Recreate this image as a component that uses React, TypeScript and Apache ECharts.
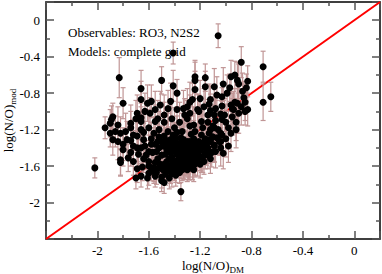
import React, { useEffect, useRef } from "react";
import * as echarts from "echarts";

// [log(N/O)_DM, log(N/O)_mod, error of log(N/O)_mod]
const upperPoints: number[][] = [
  [-1.41, -0.36, 0.12], [-1.06, -0.17, 0.13], [-1.83, -0.63, 0.22], [-1.50, -0.66, 0.15],
  [-1.24, -0.62, 0.18], [-1.16, -0.63, 0.15], [-0.96, -0.62, 0.18], [-0.93, -0.60, 0.15],
  [-0.88, -0.46, 0.17], [-0.71, -0.51, 0.17], [-0.65, -0.84, 0.16], [-0.71, -0.90, 0.2],
  [-1.24, -0.66, 0.2], [-1.16, -0.73, 0.17], [-1.09, -0.73, 0.2], [-1.02, -0.70, 0.18],
  [-0.97, -0.74, 0.15], [-0.91, -0.66, 0.2], [-0.83, -0.67, 0.17], [-0.84, -0.74, 0.15],
  [-1.24, -0.76, 0.2], [-1.26, -0.87, 0.18], [-1.12, -0.87, 0.15], [-1.03, -0.84, 0.15],
  [-0.96, -0.93, 0.18], [-0.91, -0.91, 0.2], [-0.93, -0.90, 0.15], [-0.85, -0.90, 0.2],
  [-0.83, -0.98, 0.18], [-0.85, -1.00, 0.15], [-0.95, -0.97, 0.17], [-1.03, -0.94, 0.2],
  [-1.08, -0.97, 0.15], [-1.12, -0.99, 0.18], [-1.17, -0.95, 0.2], [-1.21, -1.00, 0.18],
  [-1.28, -1.02, 0.2], [-1.32, -1.04, 0.18], [-1.04, -1.03, 0.15], [-1.03, -1.09, 0.2],
  [-1.14, -1.04, 0.17], [-1.19, -1.11, 0.18], [-1.25, -1.15, 0.2], [-1.09, -1.18, 0.18],
  [-1.04, -1.24, 0.17], [-1.05, -1.33, 0.15], [-1.09, -1.38, 0.18], [-1.04, -1.40, 0.2],
  [-1.12, -1.31, 0.18], [-1.19, -1.50, 0.17], [-1.28, -1.60, 0.15], [-1.33, -1.57, 0.17],
  [-1.66, -0.75, 0.2], [-1.41, -0.72, 0.17], [-1.38, -0.80, 0.15], [-1.80, -0.91, 0.17],
  [-1.66, -0.87, 0.2], [-1.58, -0.89, 0.18], [-1.51, -0.93, 0.15], [-1.43, -0.89, 0.2],
  [-1.38, -0.98, 0.18], [-1.30, -0.95, 0.2], [-1.22, -0.98, 0.17], [-1.09, -1.04, 0.2],
  [-1.01, -1.04, 0.18], [-0.94, -0.98, 0.2],
];

const leftPoints: number[][] = [
  [-1.94, -1.18, 0.12], [-1.90, -1.24, 0.15], [-1.88, -1.06, 0.15], [-1.89, -1.09, 0.15],
  [-1.88, -1.31, 0.17], [-1.84, -1.15, 0.2], [-1.82, -1.24, 0.18], [-1.84, -1.33, 0.2],
  [-1.80, -1.42, 0.18], [-1.82, -1.53, 0.17], [-1.76, -1.51, 0.15], [-1.74, -1.13, 0.2],
  [-1.69, -1.02, 0.2], [-1.66, -1.07, 0.18], [-1.61, -0.91, 0.2], [-1.59, -1.02, 0.17],
  [-1.55, -0.98, 0.2], [-1.55, -1.11, 0.18], [-1.66, -1.20, 0.2], [-1.64, -1.31, 0.18],
  [-1.72, -1.26, 0.17], [-1.77, -1.31, 0.2], [-1.69, -1.40, 0.15], [-2.02, -1.62, 0.11],
  [-1.82, -1.56, 0.15], [-1.74, -1.45, 0.15], [-1.74, -1.32, 0.2], [-1.66, -1.40, 0.17],
  [-1.69, -1.63, 0.15], [-1.70, -1.73, 0.12], [-1.66, -1.71, 0.12], [-1.61, -1.73, 0.12],
  [-1.55, -1.71, 0.12], [-1.50, -1.72, 0.12], [-1.48, -1.78, 0.12], [-1.35, -1.88, 0.1],
  [-1.42, -1.68, 0.15], [-1.39, -1.63, 0.15], [-1.29, -1.60, 0.15], [-1.24, -1.55, 0.15],
  [-1.18, -1.50, 0.17], [-1.15, -1.42, 0.17], [-1.09, -1.37, 0.18], [-1.07, -1.29, 0.18],
  [-1.03, -1.26, 0.15], [-1.04, -1.33, 0.15], [-1.60, -1.60, 0.15], [-1.65, -1.61, 0.15],
  [-1.56, -1.62, 0.15], [-1.66, -1.11, 0.2], [-1.90, -1.13, 0.15], [-1.69, -1.27, 0.18],
  [-1.64, -1.23, 0.2], [-1.38, -1.23, 0.18], [-1.46, -1.38, 0.2], [-1.30, -1.47, 0.18],
  [-1.25, -1.42, 0.18],
];

const corePoints: number[][] = [
  [-1.58, -1.30, 0.18], [-1.55, -1.36, 0.15], [-1.57, -1.45, 0.2], [-1.53, -1.52, 0.14],
  [-1.51, -1.58, 0.12], [-1.49, -1.64, 0.15], [-1.52, -1.40, 0.2], [-1.50, -1.33, 0.17],
  [-1.48, -1.27, 0.22], [-1.47, -1.47, 0.15], [-1.46, -1.55, 0.14], [-1.45, -1.60, 0.12],
  [-1.44, -1.38, 0.18], [-1.43, -1.31, 0.2], [-1.42, -1.50, 0.15], [-1.41, -1.43, 0.17],
  [-1.40, -1.57, 0.14], [-1.40, -1.64, 0.12], [-1.39, -1.35, 0.2], [-1.38, -1.47, 0.15],
  [-1.37, -1.53, 0.14], [-1.37, -1.40, 0.18], [-1.36, -1.60, 0.13], [-1.35, -1.29, 0.2],
  [-1.35, -1.44, 0.17], [-1.34, -1.50, 0.15], [-1.33, -1.56, 0.14], [-1.33, -1.38, 0.18],
  [-1.32, -1.63, 0.12], [-1.31, -1.46, 0.17], [-1.30, -1.33, 0.2], [-1.30, -1.53, 0.15],
  [-1.29, -1.41, 0.18], [-1.28, -1.58, 0.14], [-1.27, -1.48, 0.17], [-1.27, -1.36, 0.2],
  [-1.26, -1.52, 0.15], [-1.25, -1.30, 0.2], [-1.24, -1.44, 0.18], [-1.23, -1.38, 0.2],
  [-1.22, -1.49, 0.16], [-1.21, -1.33, 0.2], [-1.20, -1.43, 0.18], [-1.19, -1.26, 0.22],
  [-1.18, -1.37, 0.2], [-1.16, -1.30, 0.2], [-1.15, -1.35, 0.18], [-1.13, -1.24, 0.2],
  [-1.12, -1.20, 0.22], [-1.10, -1.28, 0.2], [-1.62, -1.48, 0.16], [-1.60, -1.55, 0.15],
  [-1.63, -1.38, 0.18], [-1.58, -1.62, 0.14], [-1.54, -1.67, 0.13], [-1.47, -1.69, 0.12],
  [-1.43, -1.66, 0.13], [-1.36, -1.67, 0.12], [-1.31, -1.58, 0.14], [-1.26, -1.60, 0.15],
  [-1.22, -1.55, 0.16], [-1.45, -1.22, 0.2], [-1.40, -1.18, 0.22], [-1.34, -1.22, 0.2],
  [-1.28, -1.16, 0.22], [-1.52, -1.20, 0.2], [-1.56, -1.24, 0.18], [-1.60, -1.18, 0.2],
  [-1.48, -1.12, 0.22], [-1.42, -1.08, 0.2], [-1.36, -1.12, 0.22], [-1.30, -1.08, 0.2],
  [-1.24, -1.22, 0.2], [-1.18, -1.18, 0.22], [-1.14, -1.12, 0.2], [-1.10, -1.16, 0.22],
  [-1.06, -1.20, 0.2], [-1.08, -1.10, 0.22], [-1.00, -1.12, 0.2], [-0.98, -1.18, 0.18],
  [-0.95, -1.06, 0.2], [-0.92, -1.12, 0.2], [-0.90, -1.02, 0.22], [-0.88, -0.95, 0.2],
  [-0.86, -0.85, 0.18], [-0.87, -0.78, 0.2], [-0.90, -0.70, 0.22], [-0.99, -0.80, 0.2],
  [-1.07, -0.82, 0.2], [-1.13, -0.92, 0.22], [-1.20, -0.86, 0.2], [-1.28, -0.90, 0.22],
  [-1.33, -0.97, 0.2], [-1.45, -0.97, 0.2], [-1.48, -1.04, 0.22], [-1.53, -1.08, 0.2],
  [-1.63, -1.00, 0.2], [-1.70, -1.08, 0.2], [-1.74, -1.18, 0.18], [-1.78, -1.22, 0.2],
  [-1.86, -1.22, 0.17], [-1.80, -1.36, 0.18], [-1.72, -1.38, 0.17], [-1.60, -1.44, 0.18],
  [-1.64, -1.52, 0.15], [-1.68, -1.47, 0.16], [-1.72, -1.55, 0.15], [-1.58, -1.36, 0.18],
  [-1.52, -1.28, 0.2], [-1.47, -1.36, 0.18], [-1.41, -1.26, 0.2], [-1.38, -1.54, 0.15],
  [-1.35, -1.60, 0.14], [-1.30, -1.64, 0.13], [-1.25, -1.64, 0.13], [-1.20, -1.58, 0.15],
  [-1.16, -1.46, 0.17], [-1.12, -1.52, 0.16], [-1.08, -1.44, 0.18], [-1.00, -1.30, 0.2],
  [-0.96, -1.24, 0.2], [-0.92, -1.20, 0.2], [-0.98, -1.38, 0.18], [-1.02, -1.46, 0.17],
  [-1.44, -1.73, 0.12], [-1.50, -1.76, 0.12], [-1.56, -1.66, 0.13], [-1.60, -1.68, 0.13],
  [-1.39, -1.70, 0.12],
];

// densest part of the cloud
const densePoints: number[][] = [
  [-1.46, -1.42, 0.16], [-1.43, -1.45, 0.15], [-1.40, -1.40, 0.16], [-1.38, -1.43, 0.15],
  [-1.36, -1.48, 0.14], [-1.34, -1.42, 0.16], [-1.32, -1.50, 0.15], [-1.30, -1.44, 0.16],
  [-1.28, -1.52, 0.14], [-1.26, -1.45, 0.16], [-1.24, -1.50, 0.15], [-1.22, -1.42, 0.17],
  [-1.44, -1.52, 0.14], [-1.41, -1.56, 0.13], [-1.38, -1.58, 0.13], [-1.35, -1.55, 0.14],
  [-1.32, -1.57, 0.13], [-1.29, -1.55, 0.14], [-1.48, -1.58, 0.13], [-1.45, -1.65, 0.12],
  [-1.42, -1.61, 0.13], [-1.34, -1.64, 0.12], [-1.28, -1.62, 0.13], [-1.24, -1.58, 0.14],
  [-1.50, -1.48, 0.15], [-1.54, -1.44, 0.16], [-1.55, -1.56, 0.14], [-1.52, -1.62, 0.13],
  [-1.39, -1.30, 0.18], [-1.36, -1.35, 0.17], [-1.33, -1.31, 0.18], [-1.31, -1.38, 0.17],
  [-1.28, -1.33, 0.18], [-1.25, -1.37, 0.17], [-1.22, -1.34, 0.18], [-1.19, -1.40, 0.17],
  [-1.17, -1.34, 0.18], [-1.14, -1.40, 0.17], [-1.12, -1.33, 0.18], [-1.11, -1.45, 0.16],
  [-1.42, -1.35, 0.17], [-1.46, -1.32, 0.18], [-1.49, -1.38, 0.17], [-1.53, -1.33, 0.18],
  [-1.20, -1.50, 0.15], [-1.17, -1.55, 0.14], [-1.14, -1.48, 0.15], [-1.27, -1.25, 0.2],
];

const allPoints = [...upperPoints, ...leftPoints, ...corePoints, ...densePoints];

const axisMin = -2.4;
const axisMax = 0.2;
const tickStep = 0.4;
const identityLine = [[axisMin, axisMin], [axisMax, axisMax]];

const FONT = "Liberation Serif";
const ERR_COLOR = "#c09595";

const labelFmt = (v: number) => {
  if (Math.abs(v - axisMin) < 1e-6 || v > 0.1) return "";
  const r = Math.round(v * 10) / 10;
  return r === 0 ? "0" : String(r);
};

export default function App() {
  const ref = useRef<HTMLDivElement>(null);
  useEffect(() => {
    document.body.style.margin = "0";
    if (!ref.current) return;
    const chart = echarts.init(ref.current, undefined, { renderer: "svg" });
    const baseAxis = {
      type: "value" as const,
      min: axisMin,
      max: axisMax,
      interval: tickStep,
      splitLine: { show: false },
      axisLine: { show: true, onZero: false, lineStyle: { color: "#000", width: 1.5 } },
      axisTick: { show: true, inside: true, length: 8, lineStyle: { color: "#555", width: 1.5 } },
      minorTick: { show: true, splitNumber: 2, length: 4, lineStyle: { color: "#555", width: 1.5 } },
    };
    const nameRich = {
      m: { fontFamily: FONT, fontSize: 13, color: "#000", lineHeight: 12, verticalAlign: "top" },
      s: { fontFamily: FONT, fontSize: 9, color: "#000", lineHeight: 15, verticalAlign: "bottom" },
    };
    chart.setOption({
      animation: false,
      grid: { left: 46, right: 2, top: 2, bottom: 35, containLabel: false, outerBoundsMode: "none" },
      xAxis: [
        {
          ...baseAxis,
          position: "bottom",
          axisLabel: { fontFamily: FONT, fontSize: 13, lineHeight: 12, color: "#000", margin: 5, formatter: labelFmt },
          name: "{m|log(N/O)}{s|DM}",
          nameLocation: "middle",
          nameGap: 20,
          nameMoveOverlap: false,
          nameTextStyle: { rich: nameRich },
        },
        { ...baseAxis, position: "top", axisLabel: { show: false } },
      ],
      yAxis: [
        {
          ...baseAxis,
          position: "left",
          axisLabel: { fontFamily: FONT, fontSize: 13, color: "#000", margin: 6, formatter: labelFmt },
          name: "{m|log(N/O)}{s|mod}",
          nameLocation: "middle",
          nameGap: 29,
          nameMoveOverlap: false,
          nameTextStyle: { rich: nameRich },
        },
        { ...baseAxis, position: "right", axisLabel: { show: false } },
      ],
      series: [
        {
          type: "line",
          data: identityLine,
          symbol: "none",
          lineStyle: { color: "#ff0000", width: 2 },
          z: 1,
        },
        {
          type: "custom",
          data: allPoints,
          encode: { x: 0, y: 1 },
          z: 2,
          renderItem: (_p: any, api: any) => {
            const x = api.value(0);
            const y = api.value(1);
            const e = api.value(2);
            const top = api.coord([x, y + e]);
            const bot = api.coord([x, y - e]);
            const hw = 2.5;
            const style = { stroke: ERR_COLOR, lineWidth: 1.2 };
            return {
              type: "group",
              children: [
                { type: "line", shape: { x1: top[0], y1: top[1], x2: bot[0], y2: bot[1] }, style },
                { type: "line", shape: { x1: top[0] - hw, y1: top[1], x2: top[0] + hw, y2: top[1] }, style },
                { type: "line", shape: { x1: bot[0] - hw, y1: bot[1], x2: bot[0] + hw, y2: bot[1] }, style },
              ],
            };
          },
        },
        {
          type: "scatter",
          data: allPoints.map((p) => [p[0], p[1]]),
          symbol: "circle",
          symbolSize: 7,
          itemStyle: { color: "#000", opacity: 1 },
          z: 3,
        },
      ],
      graphic: [
        {
          type: "text",
          left: 68,
          top: 26,
          style: { text: "Observables: RO3, N2S2", fontFamily: FONT, fontSize: 13, fill: "#000" },
          z: 10,
        },
        {
          type: "text",
          left: 68,
          top: 45,
          style: { text: "Models: complete grid", fontFamily: FONT, fontSize: 13, fill: "#000" },
          z: 10,
        },
      ],
    });
    return () => chart.dispose();
  }, []);
  return <div ref={ref} style={{ width: 382, height: 274 }} />;
}
